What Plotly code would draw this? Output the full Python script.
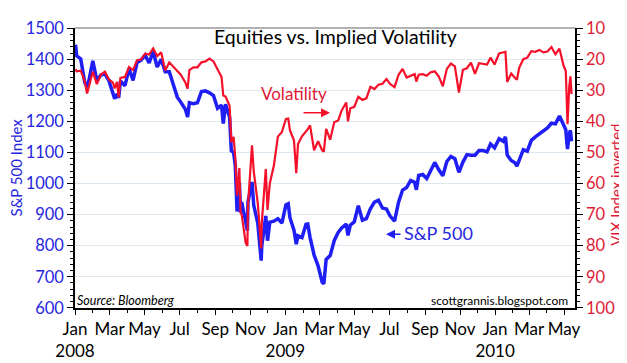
import plotly.graph_objects as go

dates = [
    "2008-01-02", "2008-01-04", "2008-01-11", "2008-01-18", "2008-01-22", "2008-01-25",
    "2008-02-01", "2008-02-08", "2008-02-15", "2008-02-22", "2008-02-29",
    "2008-03-07", "2008-03-10", "2008-03-14", "2008-03-17", "2008-03-20", "2008-03-28",
    "2008-04-04", "2008-04-11", "2008-04-18", "2008-04-25",
    "2008-05-02", "2008-05-09", "2008-05-16", "2008-05-23", "2008-05-30",
    "2008-06-06", "2008-06-13", "2008-06-20", "2008-06-27",
    "2008-07-03", "2008-07-11", "2008-07-15", "2008-07-18", "2008-07-25",
    "2008-08-01", "2008-08-08", "2008-08-15", "2008-08-22", "2008-08-29",
    "2008-09-05", "2008-09-12", "2008-09-15", "2008-09-19", "2008-09-26", "2008-09-29",
    "2008-10-03", "2008-10-06", "2008-10-09", "2008-10-13", "2008-10-15", "2008-10-17",
    "2008-10-24", "2008-10-27", "2008-10-28", "2008-10-31",
    "2008-11-04", "2008-11-07", "2008-11-14", "2008-11-20", "2008-11-21", "2008-11-28",
    "2008-12-01", "2008-12-05", "2008-12-12", "2008-12-19", "2008-12-26",
    "2009-01-02", "2009-01-06", "2009-01-09", "2009-01-16", "2009-01-20", "2009-01-23", "2009-01-30",
    "2009-02-06", "2009-02-09", "2009-02-13", "2009-02-20", "2009-02-27",
    "2009-03-06", "2009-03-09", "2009-03-13", "2009-03-20", "2009-03-27",
    "2009-04-03", "2009-04-09", "2009-04-17", "2009-04-20", "2009-04-24",
    "2009-05-01", "2009-05-08", "2009-05-15", "2009-05-22", "2009-05-29",
    "2009-06-05", "2009-06-12", "2009-06-19", "2009-06-26",
    "2009-07-02", "2009-07-10", "2009-07-17", "2009-07-24", "2009-07-31",
    "2009-08-07", "2009-08-14", "2009-08-17", "2009-08-21", "2009-08-28",
    "2009-09-04", "2009-09-11", "2009-09-18", "2009-09-25",
    "2009-10-02", "2009-10-09", "2009-10-16", "2009-10-23", "2009-10-30",
    "2009-11-06", "2009-11-13", "2009-11-20", "2009-11-27",
    "2009-12-04", "2009-12-11", "2009-12-18", "2009-12-24", "2009-12-31",
    "2010-01-08", "2010-01-15", "2010-01-19", "2010-01-22", "2010-01-29",
    "2010-02-05", "2010-02-08", "2010-02-12", "2010-02-19", "2010-02-26",
    "2010-03-05", "2010-03-12", "2010-03-19", "2010-03-26",
    "2010-04-02", "2010-04-09", "2010-04-16", "2010-04-23", "2010-04-30",
    "2010-05-04", "2010-05-06", "2010-05-07", "2010-05-10", "2010-05-12", "2010-05-14",
]

spx = [
    1447, 1411, 1401, 1325, 1310, 1330,
    1395, 1331, 1349, 1353, 1331,
    1294, 1273, 1288, 1276, 1330, 1315,
    1370, 1332, 1390, 1397,
    1413, 1388, 1425, 1375, 1400,
    1360, 1360, 1317, 1278,
    1262, 1239, 1214, 1260, 1257,
    1260, 1296, 1298, 1292, 1283,
    1242, 1252, 1193, 1255, 1213, 1106,
    1099, 1056, 910, 1003, 907, 940,
    877, 848, 941, 968,
    1005, 930, 873, 752, 800, 896,
    816, 876, 879, 887, 873,
    931, 935, 890, 850, 805, 832, 826,
    869, 870, 827, 770, 735,
    683, 677, 756, 768, 816,
    843, 857, 870, 833, 866,
    877, 929, 882, 887, 919,
    940, 946, 921, 918,
    896, 879, 940, 979, 987,
    1010, 1004, 980, 1026, 1029,
    1016, 1042, 1068, 1044,
    1025, 1071, 1087, 1080, 1036,
    1069, 1093, 1091, 1091,
    1106, 1106, 1102, 1127, 1115,
    1144, 1136, 1150, 1092, 1074,
    1066, 1056, 1075, 1109, 1104,
    1139, 1150, 1160, 1167,
    1179, 1194, 1192, 1217, 1187,
    1173, 1128, 1111, 1160, 1171, 1136,
]

vix = [
    23.2, 23.9, 23.7, 27.2, 31.0, 29.0,
    24.0, 28.0, 25.0, 24.0, 26.5,
    27.5, 29.4, 27.3, 32.2, 26.0, 25.7,
    22.5, 23.5, 20.3, 20.1,
    18.2, 18.5, 16.5, 19.0, 17.8,
    23.6, 21.0, 22.5, 24.0,
    25.0, 27.5, 29.5, 23.5, 22.6,
    22.6, 21.0, 20.7, 19.8, 20.7,
    23.0, 25.7, 31.7, 32.0, 35.0, 46.7,
    45.0, 52.0, 63.9, 55.0, 69.3, 70.0,
    79.1, 80.1, 67.0, 59.9,
    47.7, 56.0, 66.3, 80.9, 72.7, 55.3,
    68.5, 59.9, 54.3, 44.9, 43.4,
    39.2, 39.1, 42.8, 46.1, 56.7, 47.3, 44.8,
    43.4, 42.5, 41.3, 49.3, 46.4,
    49.3, 49.7, 42.4, 45.9, 40.3,
    39.7, 36.5, 33.9, 40.0, 35.8,
    35.3, 32.1, 33.1, 32.6, 28.9,
    29.6, 28.2, 27.9, 26.4,
    27.9, 29.0, 25.0, 23.1, 25.9,
    25.4, 24.8, 27.2, 25.0, 24.8,
    25.3, 24.2, 23.9, 25.6,
    28.7, 23.1, 21.4, 22.3, 30.7,
    23.4, 22.9, 21.1, 24.7,
    21.3, 21.6, 21.7, 19.5, 21.7,
    18.1, 17.9, 17.6, 27.3, 24.6,
    26.1, 26.6, 22.7, 20.0, 19.5,
    17.4, 17.6, 17.0, 17.8,
    17.5, 16.1, 18.4, 16.6, 22.0,
    23.8, 32.8, 40.9, 28.8, 25.5, 31.2,
]

x_tickvals = ["2008-01-01", "2008-03-01", "2008-05-01", "2008-07-01", "2008-09-01", "2008-11-01",
              "2009-01-01", "2009-03-01", "2009-05-01", "2009-07-01", "2009-09-01", "2009-11-01",
              "2010-01-01", "2010-03-01", "2010-05-01"]
x_ticktext = ["Jan<br>2008", "Mar", "May", "Jul", "Sep", "Nov",
              "Jan<br>2009", "Mar", "May", "Jul", "Sep", "Nov",
              "Jan<br>2010", "Mar", "May"]
spx_ticks = [600, 700, 800, 900, 1000, 1100, 1200, 1300, 1400, 1500]
vix_ticks = [10, 20, 30, 40, 50, 60, 70, 80, 90, 100]

BLUE = "#1e1ef5"
RED = "#f5102a"
BLUE_TXT = "#2626e0"
RED_TXT = "#e01a36"
FONT = "Lato"

fig = go.Figure()
fig.add_trace(go.Scatter(x=dates, y=spx, mode="lines", yaxis="y",
                         line=dict(color=BLUE, width=3.5), showlegend=False))
fig.add_trace(go.Scatter(x=dates, y=vix, mode="lines", yaxis="y2",
                         line=dict(color=RED, width=2.2), showlegend=False))

fig.update_layout(
    width=627, height=363,
    margin=dict(l=67, r=60, t=10, b=53),
    paper_bgcolor="white", plot_bgcolor="white",
    font=dict(family=FONT, size=16, color="black"),
    xaxis=dict(
        range=["2008-01-01", "2010-05-20"],
        tickmode="array", tickvals=x_tickvals, ticktext=x_ticktext, tickangle=0,
        ticks="outside", ticklen=5, tickcolor="black",
        showline=True, linecolor="black", linewidth=1.5,
        showgrid=False, zeroline=False,
        minor=dict(dtick="M1", ticks="outside", ticklen=3, tickcolor="black"),
        tickfont=dict(size=17, color="black"),
    ),
    yaxis=dict(
        range=[599.5, 1500.5], tickmode="array", tickvals=spx_ticks,
        ticks="outside", ticklen=6, tickcolor="black",
        showline=True, linecolor="black", linewidth=1.5,
        showgrid=True, gridcolor="#dde7f0", gridwidth=1,
        zeroline=False, ticklabeloverflow="allow",
        minor=dict(dtick=20, ticks="outside", ticklen=3, tickcolor="black", showgrid=False),
        tickfont=dict(size=16.5, color=BLUE_TXT),
    ),
    yaxis2=dict(
        range=[100.05, 9.95], tickmode="array", tickvals=vix_ticks,
        overlaying="y", side="right",
        ticks="outside", ticklen=6, tickcolor="black",
        showline=True, linecolor="black", linewidth=1.5,
        showgrid=False, zeroline=False, ticklabeloverflow="allow",
        minor=dict(dtick=2, ticks="outside", ticklen=3, tickcolor="black"),
        tickfont=dict(size=16.5, color=RED_TXT),
    ),
    shapes=[dict(type="line", xref="paper", yref="paper", x0=0, x1=1, y0=1, y1=1,
                 line=dict(color="#999999", width=1.5))],
    annotations=[
        dict(text="Equities vs. Implied Volatility", xref="paper", yref="paper",
             x=0.52, y=0.97, xanchor="center", yanchor="middle", showarrow=False,
             font=dict(size=19.5, color="black")),
        dict(text="S&P 500 Index", xref="paper", yref="paper", x=-0.119, y=0.5,
             textangle=-90, xanchor="center", yanchor="middle", showarrow=False,
             font=dict(size=15, color=BLUE_TXT)),
        dict(text="VIX Index inverted", xref="paper", yref="paper", x=1.082, y=0.44,
             textangle=-90, xanchor="center", yanchor="middle", showarrow=False,
             font=dict(size=15, color=RED_TXT)),
        dict(text="<i>Source: Bloomberg</i>", xref="paper", yref="paper", x=0.0, y=0.027,
             xanchor="left", yanchor="middle", showarrow=False,
             font=dict(size=12.5, color="black")),
        dict(text="scottgrannis.blogspot.com", xref="paper", yref="paper", x=0.99, y=0.027,
             xanchor="right", yanchor="middle", showarrow=False,
             font=dict(size=12, color="black")),
        dict(text="Volatility", xref="paper", yref="paper", x=0.438, y=0.765,
             xanchor="center", yanchor="middle", showarrow=False,
             font=dict(size=17, color=RED_TXT)),
        dict(text="", xref="paper", yref="paper", x=0.51, y=0.697,
             ax=-28, ay=0, showarrow=True, arrowhead=2, arrowsize=1.2, arrowwidth=1.5,
             arrowcolor=RED),
        dict(text="S&P 500", xref="paper", yref="paper", x=0.727, y=0.268,
             xanchor="center", yanchor="middle", showarrow=False,
             font=dict(size=18, color=BLUE_TXT)),
        dict(text="", xref="paper", yref="paper", x=0.622, y=0.263,
             ax=16, ay=0, showarrow=True, arrowhead=2, arrowsize=1.2, arrowwidth=1.5,
             arrowcolor=BLUE),
    ],
)

fig.write_html("out.html")
